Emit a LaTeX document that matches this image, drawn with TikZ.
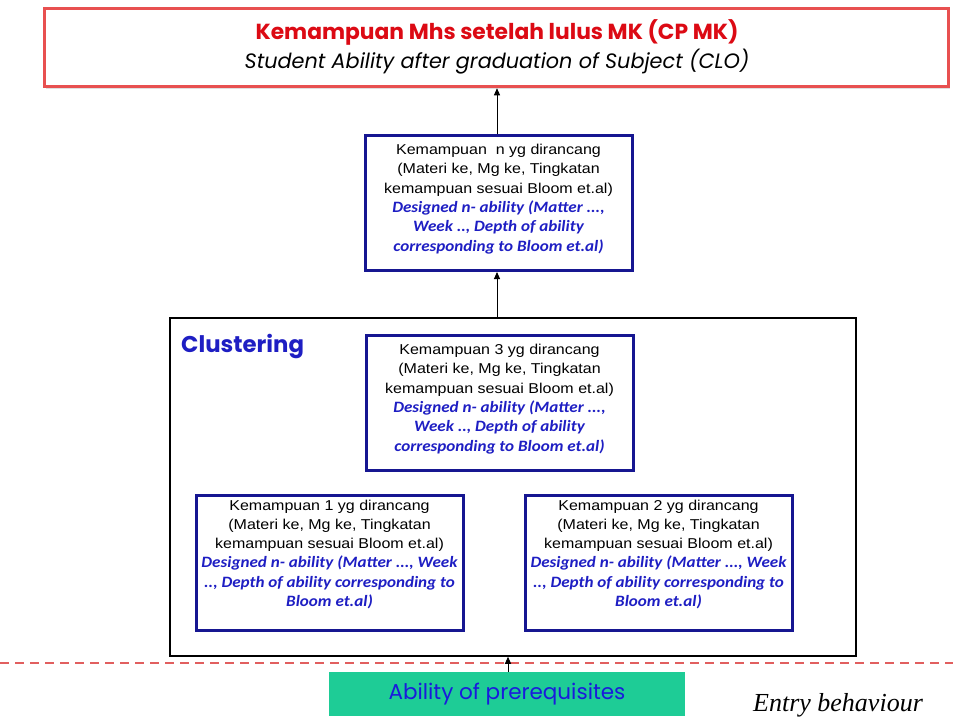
\documentclass[tikz,border=0pt]{standalone}
\usepackage{fontspec}
\setmainfont[FakeStretch=1.12]{Liberation Sans}
\newfontfamily\geofont{Poppins}
\newfontfamily\calfont[FakeStretch=1.08]{Carlito}
\newfontfamily\timesfont{Liberation Serif}
\usetikzlibrary{arrows.meta,shadows}
\definecolor{boxblue}{RGB}{22,22,145}
\definecolor{txtblue}{RGB}{30,30,195}
\definecolor{topred}{RGB}{232,80,80}
\definecolor{titlered}{RGB}{220,10,20}
\definecolor{dashred}{RGB}{225,95,95}
\definecolor{prereq}{RGB}{30,204,150}
\definecolor{prereqtxt}{RGB}{26,26,220}
\tikzset{
  abilitybox/.style={draw=boxblue, line width=3pt, fill=white, minimum width=267pt, minimum height=135pt, inner sep=0pt},
  abilitytext/.style={anchor=north, align=center, inner sep=0pt, font=\fontsize{14.3pt}{19.3pt}\selectfont},
  upflow/.style={draw=black, line width=0.9pt, -{Triangle[length=7pt,width=6pt]}},
}
% one line of the English description, set in blue bold italic
\newcommand{\bl}[1]{{\calfont\fontsize{15.8pt}{19.3pt}\selectfont\bfseries\itshape\color{txtblue}#1}}
\begin{document}
\begin{tikzpicture}[x=1pt,y=-1pt]
  \useasboundingbox[fill=white] (0,0) rectangle (953,724);

  % outcome of the subject
  \node[draw=topred, line width=3.5pt, fill=white, minimum width=904pt, minimum height=78pt,
        drop shadow={opacity=0.25, shadow xshift=1pt, shadow yshift=-2pt}] (clo) at (496.5,47.5) {};
  \node[font=\geofont\bfseries\fontsize{21.8pt}{24pt}\selectfont, text=titlered] (clotitle) at (497,32)
    {Kemampuan Mhs setelah lulus MK (CP MK)};
  \node[font=\geofont\itshape\fontsize{20.8pt}{24pt}\selectfont] (closub) at (497,62)
    {Student Ability after graduation of Subject (CLO)};

  % designed ability n
  \node[abilitybox] (bn) at (498.5,203) {};
  \node[abilitytext] (bnt) at (498.5,144)
    {Kemampuan \ n yg dirancang\\(Materi ke, Mg ke, Tingkatan\\kemampuan sesuai Bloom et.al)\\
     \bl{Designed n- ability (Matter ...,}\\\bl{Week .., Depth of ability}\\\bl{corresponding to Bloom et.al)}};

  % clustering frame
  \node[draw=black, line width=1.5pt, minimum width=686pt, minimum height=338pt, inner sep=0pt] (cl) at (513,487) {};
  \node[anchor=north west, inner sep=0pt, font=\geofont\bfseries\fontsize{22.8pt}{26pt}\selectfont, text=txtblue] (cltitle) at (181,334) {Clustering};

  \node[abilitybox] (b3) at (499.5,402.5) {};
  \node[abilitytext] (b3t) at (499.5,344)
    {Kemampuan 3 yg dirancang\\(Materi ke, Mg ke, Tingkatan\\kemampuan sesuai Bloom et.al)\\
     \bl{Designed n- ability (Matter ...,}\\\bl{Week .., Depth of ability}\\\bl{corresponding to Bloom et.al)}};

  \node[abilitybox] (b1) at (329.5,562.5) {};
  \node[abilitytext] (b1t) at (329.5,499.5)
    {Kemampuan 1 yg dirancang\\(Materi ke, Mg ke, Tingkatan\\kemampuan sesuai Bloom et.al)\\
     \bl{Designed n- ability (Matter ..., Week}\\\bl{.., Depth of ability corresponding to}\\\bl{Bloom et.al)}};

  \node[abilitybox] (b2) at (658.5,562.5) {};
  \node[abilitytext] (b2t) at (658.5,499.5)
    {Kemampuan 2 yg dirancang\\(Materi ke, Mg ke, Tingkatan\\kemampuan sesuai Bloom et.al)\\
     \bl{Designed n- ability (Matter ..., Week}\\\bl{.., Depth of ability corresponding to}\\\bl{Bloom et.al)}};

  % entry line
  \coordinate (dl) at (0,663);
  \coordinate (dr) at (953,663);
  \draw[dashred, line width=1.8pt, dash pattern=on 9pt off 6pt] (dl) -- (dr);

  \node[fill=prereq, minimum width=356pt, minimum height=44pt, inner sep=0pt,
        font=\geofont\fontsize{21.5pt}{24pt}\selectfont, text=prereqtxt] (pre) at (507,694) {Ability of prerequisites};
  \node[font=\timesfont\itshape\fontsize{26pt}{28pt}\selectfont] (entry) at (838,705) {Entry behaviour};

  % flow upward
  \draw[upflow] (pre.north -| 508,0) -- (cl.south -| 508,0);
  \draw[upflow] (cl.north -| 497,0) -- (bn.south -| 497,0);
  \draw[upflow] (bn.north -| 497,0) -- (clo.south -| 497,0);
\end{tikzpicture}
\end{document}
